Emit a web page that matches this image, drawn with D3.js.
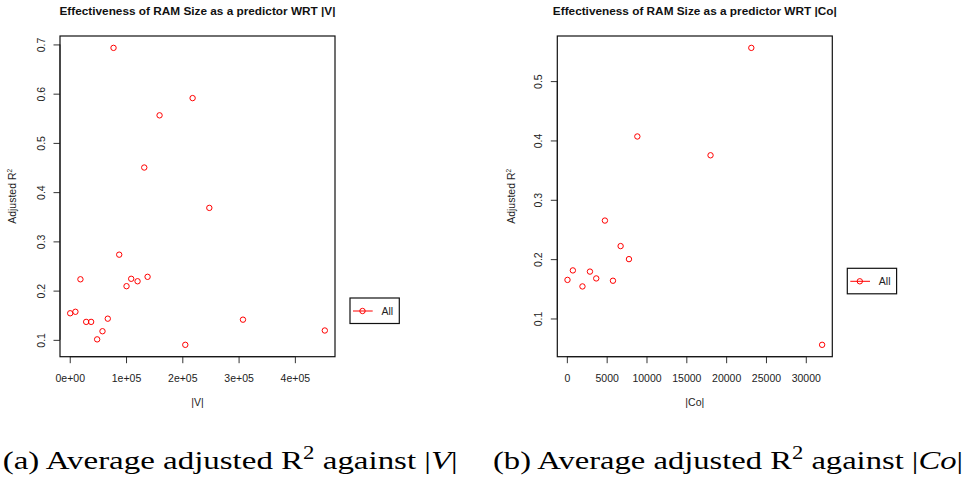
<!doctype html>
<html>
<head>
  <meta charset="utf-8">
  <title>RAM Size as a predictor</title>
  <script src="https://d3js.org/d3.v7.min.js"></script>
  <style>
    body { margin: 0; background: #fff; }
    svg { display: block; }
    .title { font: bold 11.8px "Liberation Sans", Arial, sans-serif; fill: #111; }
    .tick-label, .axis-label, .legend-text { font: 10.5px "Liberation Sans", Arial, sans-serif; fill: #222; }
    .caption { font-family: "Liberation Serif", "Times New Roman", serif; font-size: 26px; fill: #000; }
  </style>
</head>
<body>
  <div id="chart"></div>
  <script>
    // |V| vs adjusted R^2
    var vX = [800, 10100, 19000, 29200, 38000, 48700, 58200, 67600, 77800, 87900, 100900,
              109200, 120500, 132400, 138300, 159600, 205300, 218300, 248000, 307800, 453200];
    var vY = [0.154, 0.157, 0.223, 0.1365, 0.1365, 0.101, 0.1175, 0.143, 0.693, 0.273, 0.209,
              0.224, 0.219, 0.45, 0.228, 0.556, 0.0899, 0.591, 0.368, 0.141, 0.119];
    var vTicksX = [0, 100000, 200000, 300000, 400000];
    var vTicksY = [0.1, 0.2, 0.3, 0.4, 0.5, 0.6, 0.7];

    // |Co| vs adjusted R^2
    var coX = [80, 755, 1960, 2900, 3690, 4780, 5790, 6750, 7800, 8850, 18040, 23160, 32050];
    var coY = [0.165, 0.181, 0.154, 0.179, 0.1675, 0.265, 0.1636, 0.222, 0.2, 0.4067, 0.375, 0.556, 0.0556];
    var coTicksX = [0, 5000, 10000, 15000, 20000, 25000, 30000];
    var coTicksY = [0.1, 0.2, 0.3, 0.4, 0.5];

    var legendLabels = ["All"];

    var width = 967, height = 481;
    var svg = d3.select("#chart").append("svg")
      .attr("width", width)
      .attr("height", height);

    // R-style 4% padded domain
    function padded(arr) {
      var e = d3.extent(arr), p = (e[1] - e[0]) * 0.04;
      return [e[0] - p, e[1] + p];
    }

    function sciFormat(d) {
      if (d === 0) return "0e+00";
      var exp = Math.floor(Math.log10(d));
      var m = Math.round(d / Math.pow(10, exp));
      return m + "e+" + (exp < 10 ? "0" : "") + exp;
    }

    function drawPanel(opt) {
      var x = d3.scaleLinear().domain(padded(opt.xs)).range([opt.left, opt.right]);
      var y = d3.scaleLinear().domain(padded(opt.ys)).range([opt.bottom, opt.top]);
      var g = svg.append("g");

      g.append("text").attr("class", "title")
        .attr("x", (opt.left + opt.right) / 2).attr("y", 14.5)
        .attr("text-anchor", "middle")
        .text(opt.title);

      // x axis
      var xAxis = g.append("g").attr("transform", "translate(0," + opt.bottom + ")")
        .call(d3.axisBottom(x).tickValues(opt.xTicks).tickSize(6.5).tickPadding(11).tickFormat(opt.xFormat));
      xAxis.select(".domain").attr("d", "M" + x(opt.xTicks[0]) + ",0H" + x(opt.xTicks[opt.xTicks.length - 1]));
      xAxis.selectAll("text").attr("class", "tick-label").attr("fill", "#222").attr("font-size", null).attr("font-family", null);

      // y axis
      var yAxis = g.append("g").attr("transform", "translate(" + opt.left + ",0)")
        .call(d3.axisLeft(y).tickValues(opt.yTicks).tickSize(6.5).tickFormat(d3.format(".1f")));
      yAxis.select(".domain").attr("d", "M0," + y(opt.yTicks[0]) + "V" + y(opt.yTicks[opt.yTicks.length - 1]));
      yAxis.selectAll(".tick text")
        .attr("class", "tick-label").attr("fill", "#222").attr("font-size", null).attr("font-family", null)
        .attr("x", null).attr("dy", null)
        .attr("text-anchor", "middle")
        .attr("transform", "translate(" + (opt.yLabX - opt.left + 3.8) + ",0) rotate(-90)");
      g.selectAll(".domain, .tick line").attr("stroke", "#333");

      // box
      g.append("rect")
        .attr("x", opt.left).attr("y", opt.top)
        .attr("width", opt.right - opt.left).attr("height", opt.bottom - opt.top)
        .attr("fill", "none").attr("stroke", "#111").attr("stroke-width", 1.2);

      // axis titles
      g.append("text").attr("class", "axis-label")
        .attr("x", (opt.left + opt.right) / 2).attr("y", 405.5)
        .attr("text-anchor", "middle")
        .text(opt.xLabel);

      var yl = g.append("text").attr("class", "axis-label")
        .attr("text-anchor", "middle")
        .attr("transform", "translate(" + (opt.yTitleX + 3.8) + "," + ((opt.top + opt.bottom) / 2) + ") rotate(-90)");
      yl.append("tspan").text("Adjusted R");
      yl.append("tspan").attr("font-size", "6.5px").attr("dy", -4).text("2");

      // points
      g.selectAll("circle.pt").data(opt.xs.map(function(d, i) { return [d, opt.ys[i]]; }))
        .enter().append("circle").attr("class", "pt")
        .attr("cx", function(d) { return x(d[0]); })
        .attr("cy", function(d) { return y(d[1]); })
        .attr("r", 2.7)
        .attr("fill", "none").attr("stroke", "#ff0000").attr("stroke-width", 1);

      // legend
      var lg = g.append("g");
      lg.append("rect")
        .attr("x", opt.legX).attr("y", opt.legY)
        .attr("width", 49.3).attr("height", 25.5)
        .attr("fill", "#fff").attr("stroke", "#111").attr("stroke-width", 1.2);
      var cy = opt.legY + 13;
      lg.append("line")
        .attr("x1", opt.legX + 3).attr("x2", opt.legX + 22.7)
        .attr("y1", cy).attr("y2", cy)
        .attr("stroke", "#ff0000").attr("stroke-width", 1);
      lg.append("circle")
        .attr("cx", opt.legX + 12.5).attr("cy", cy).attr("r", 2.7)
        .attr("fill", "none").attr("stroke", "#ff0000").attr("stroke-width", 1);
      lg.append("text").attr("class", "legend-text")
        .attr("x", opt.legX + 31.5).attr("y", cy + 3.8)
        .text(legendLabels[0]);
    }

    drawPanel({
      xs: vX, ys: vY, xTicks: vTicksX, yTicks: vTicksY,
      left: 60, right: 335, top: 36, bottom: 356.7,
      xFormat: sciFormat,
      title: "Effectiveness of RAM Size as a predictor WRT |V|",
      xLabel: "|V|", yLabX: 41, yTitleX: 12.5,
      legX: 350, legY: 298
    });

    drawPanel({
      xs: coX, ys: coY, xTicks: coTicksX, yTicks: coTicksY,
      left: 557.3, right: 832.3, top: 36, bottom: 356.7,
      xFormat: d3.format("d"),
      title: "Effectiveness of RAM Size as a predictor WRT |Co|",
      xLabel: "|Co|", yLabX: 538, yTitleX: 511,
      legX: 847.3, legY: 268.3
    });

    // sub-figure captions
    function caption(x0, w, letter, italicPart) {
      var t = svg.append("text").attr("class", "caption")
        .attr("x", x0).attr("y", 469);
      t.append("tspan").text("(" + letter + ") Average adjusted R");
      t.append("tspan").attr("font-size", "18px").attr("dy", -10).text("2");
      t.append("tspan").attr("dy", 10).text(" against |");
      t.append("tspan").attr("font-style", "italic").text(italicPart);
      t.append("tspan").text("|");
      t.attr("textLength", w).attr("lengthAdjust", "spacingAndGlyphs");
    }
    caption(2.7, 455, "a", "V");
    caption(493, 470, "b", "Co");
  </script>
</body>
</html>
